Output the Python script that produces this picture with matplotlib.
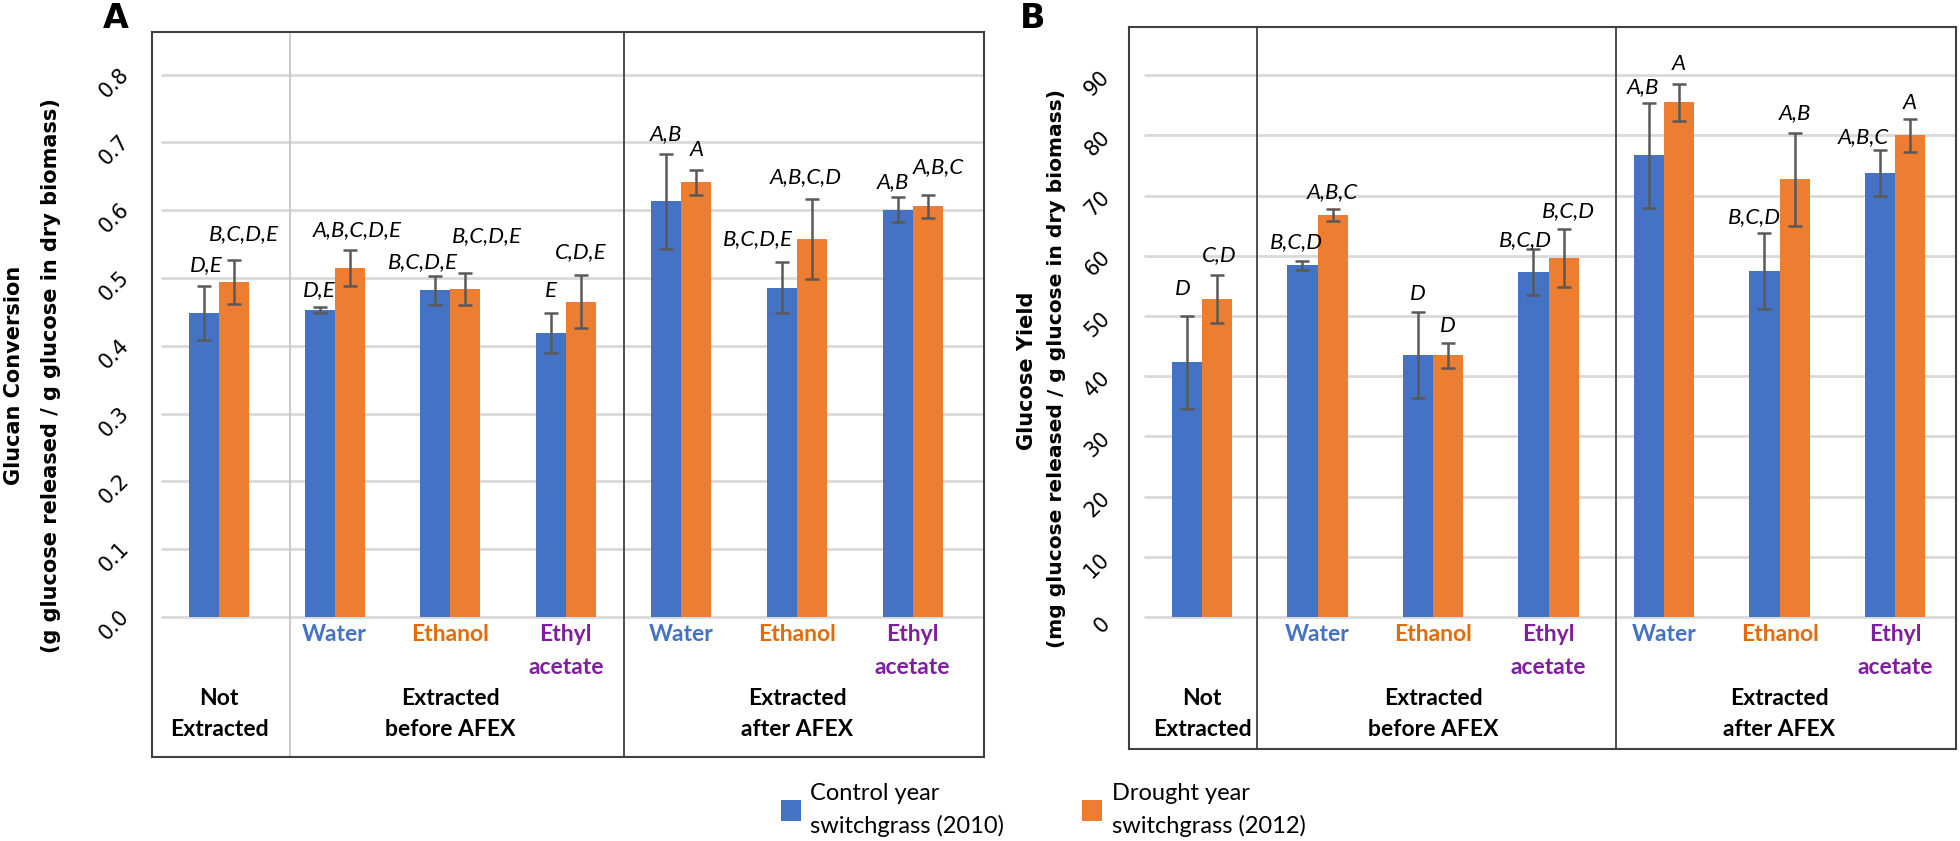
import matplotlib
matplotlib.use('Agg')
import numpy as np
import matplotlib.pyplot as plt
import matplotlib.transforms as mtransforms

# categories
groups = ['Not\nExtracted', 'Extracted\nbefore AFEX', 'Extracted\nafter AFEX']
group_pos = [0, 2, 5]
solvents = ['', 'Water', 'Ethanol', 'Ethyl\nacetate', 'Water', 'Ethanol', 'Ethyl\nacetate']
solvent_colors = ['black', '#4472C4', '#E26B0A', '#7F1F9F', '#4472C4', '#E26B0A', '#7F1F9F']
series = ['Control year\nswitchgrass (2010)', 'Drought year\nswitchgrass (2012)']

# panel A - glucan conversion
conv_2010 = [0.449, 0.453, 0.482, 0.419, 0.613, 0.486, 0.601]
conv_2010_err = [0.040, 0.004, 0.021, 0.030, 0.070, 0.037, 0.019]
conv_2012 = [0.494, 0.515, 0.484, 0.465, 0.641, 0.558, 0.606]
conv_2012_err = [0.032, 0.026, 0.024, 0.039, 0.018, 0.059, 0.017]
conv_2010_sig = ['D,E', 'D,E', 'B,C,D,E', 'E', 'A,B', 'B,C,D,E', 'A,B']
conv_2012_sig = ['B,C,D,E', 'A,B,C,D,E', 'B,C,D,E', 'C,D,E', 'A', 'A,B,C,D', 'A,B,C']
conv_ticks = [0.0, 0.1, 0.2, 0.3, 0.4, 0.5, 0.6, 0.7, 0.8]

# panel B - glucose yield
yield_2010 = [42.3, 58.4, 43.5, 57.3, 76.7, 57.5, 73.7]
yield_2010_err = [7.7, 0.7, 7.1, 3.8, 8.7, 6.3, 3.8]
yield_2012 = [52.8, 66.8, 43.5, 59.7, 85.5, 72.7, 80.0]
yield_2012_err = [4.0, 1.0, 2.1, 4.8, 3.1, 7.7, 2.7]
yield_2010_sig = ['D', 'B,C,D', 'D', 'B,C,D', 'A,B', 'B,C,D', 'A,B,C']
yield_2012_sig = ['C,D', 'A,B,C', 'D', 'B,C,D', 'A', 'A,B', 'A']
yield_ticks = [0, 10, 20, 30, 40, 50, 60, 70, 80, 90]

BLUE = '#4472C4'
ORANGE = '#ED7D31'
PX = 0.72  # points per pixel at dpi 100

# little label nudges (px) so the letters don't collide, like in the original
nudge_a = ([(2, 0), (0, -3), (-12, -6), (0, 2), (0, 0), (-24, 3), (-5, -5)],
           [(10, 6), (8, 0), (22, 17), (0, 3), (0, 0), (-6, 2), (11, 8)])
nudge_b = ([(-4, 7), (-6, -1), (0, -2), (-8, -11), (-6, -4), (-10, -4), (-17, -7)],
           [(2, 0), (0, -3), (0, -3), (5, -2), (0, 0), (0, 0), (0, -4)])


def draw_panel(ax, vals, errs, sigs, nudges, ticks, labels, xlim, ylim, seps, pad):
    x = np.arange(len(vals[0]))
    w = 0.26
    ax.set_xlim(*xlim)
    ax.set_ylim(*ylim)
    ax.hlines(ticks, -0.5, xlim[1], color='#d9d9d9', lw=2, zorder=0)
    for xs, col in seps:
        ax.axvline(xs, color=col, lw=1.3, zorder=1)

    bars = []
    for k, col in enumerate([BLUE, ORANGE]):
        xb = x + (k - 0.5) * w
        b = ax.bar(xb, vals[k], w, color=col, zorder=2, label=series[k])
        ax.errorbar(xb, vals[k], yerr=errs[k], fmt='none', ecolor='#595959',
                    elinewidth=1.8, capsize=5, capthick=1.8, zorder=3)
        bars.append(b)
        for i in range(len(x)):
            dx, dy = nudges[k][i]
            ax.annotate(sigs[k][i], xy=(xb[i], vals[k][i] + errs[k][i]),
                        xytext=(dx * PX, (20 + dy) * PX), textcoords='offset points',
                        ha='center', va='center', fontsize=16, style='italic',
                        family='Lato', zorder=4)

    # category labels under the axis
    for i, s in enumerate(solvents):
        if s:
            ax.annotate(s, xy=(i, 0), xytext=(0, -7 * PX), textcoords='offset points',
                        ha='center', va='top', fontsize=16.5, weight='bold',
                        family='Lato', color=solvent_colors[i], linespacing=1.7)
    for g, gp in zip(groups, group_pos):
        ax.annotate(g, xy=(gp, 0), xytext=(0, -97 * PX), textcoords='offset points',
                    ha='center', va='center', fontsize=16.5, weight='bold',
                    family='Lato', linespacing=1.6)

    ax.set_xticks([])
    ax.set_yticks(ticks)
    ax.set_yticklabels(labels)
    ax.tick_params(axis='y', length=0, pad=pad, labelsize=15, labelrotation=45)
    off = mtransforms.ScaledTranslation(0, -8 / 100, ax.figure.dpi_scale_trans)
    for lab in ax.get_yticklabels():
        lab.set_ha('right')
        lab.set_va('center')
        lab.set_transform(lab.get_transform() + off)
    for sp in ax.spines.values():
        sp.set_color('#404040')
        sp.set_linewidth(1.5)
    return bars


def main():
    fig = plt.figure(figsize=(19.6, 8.41), dpi=100)

    ax1 = fig.add_axes([152 / 1960, 1 - 757 / 841, 832 / 1960, 725 / 841])
    draw_panel(ax1, (conv_2010, conv_2012), (conv_2010_err, conv_2012_err),
               (conv_2010_sig, conv_2012_sig), nudge_a, conv_ticks,
               ['%.1f' % t for t in conv_ticks], (-0.580, 6.618), (-0.2065, 0.863),
               [(0.614, '#c8c8c8'), (3.503, '#404040')], 14)

    ax2 = fig.add_axes([1129 / 1960, 1 - 749 / 841, 827 / 1960, 722 / 841])
    bars = draw_panel(ax2, (yield_2010, yield_2012), (yield_2010_err, yield_2012_err),
                      (yield_2010_sig, yield_2012_sig), nudge_b, yield_ticks,
                      [str(t) for t in yield_ticks], (-0.632, 6.528), (-21.9, 98.0),
                      [(0.476, '#404040'), (3.584, '#404040')], 11)

    # y axis titles
    fig.text(14 / 1960, 1 - 375 / 841, 'Glucan Conversion', rotation=90,
             ha='center', va='center', fontsize=15, weight='bold')
    fig.text(51 / 1960, 1 - 376 / 841, '(g glucose released / g glucose in dry biomass)',
             rotation=90, ha='center', va='center', fontsize=15, weight='bold')
    fig.text(1027 / 1960, 1 - 371 / 841, 'Glucose Yield', rotation=90,
             ha='center', va='center', fontsize=15, weight='bold')
    fig.text(1057 / 1960, 1 - 368 / 841, '(mg glucose released / g glucose in dry biomass)',
             rotation=90, ha='center', va='center', fontsize=14.6, weight='bold')

    fig.text(116 / 1960, 1 - 18 / 841, 'A', ha='center', va='center', fontsize=24, weight='bold')
    fig.text(1033 / 1960, 1 - 18 / 841, 'B', ha='center', va='center', fontsize=24, weight='bold')

    leg = fig.legend(bars, series, loc='center', bbox_to_anchor=(1043 / 1960, 1 - 810 / 841),
                     ncol=2, frameon=False, prop={'family': 'Lato', 'size': 17},
                     handlelength=0.85, handleheight=1.0, handletextpad=0.4, columnspacing=3.3)
    for t in leg.get_texts():
        t.set_linespacing(1.6)

    fig.savefig('out.png', dpi=100)


if __name__ == '__main__':
    main()
